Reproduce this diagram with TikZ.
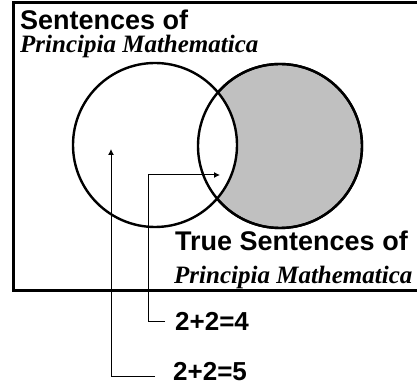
\documentclass[tikz,border=0pt]{standalone}
\usepackage{fontspec}
\setmainfont{Liberation Sans}
\newfontfamily\pmfont{Liberation Serif}
\usetikzlibrary{arrows.meta, positioning, calc}
\definecolor{shade}{RGB}{192,192,192}
\tikzset{
  set/.style={draw, line width=2.4pt, circle, minimum size=164pt, inner sep=0pt},
  title/.style={font=\fontsize{27}{30}\selectfont\bfseries, anchor=base west, inner sep=0pt},
  book/.style={font=\pmfont\fontsize{25}{28}\selectfont\bfseries\itshape, anchor=base west, inner sep=0pt},
  sum/.style={font=\fontsize{26}{30}\selectfont\bfseries, anchor=west, inner sep=0pt},
  arr/.style={-{Latex[length=6pt, width=6pt]}, line width=1pt},
}

\begin{document}
\begin{tikzpicture}[x=1pt, y=-1pt]
    \useasboundingbox (0,0) rectangle (417,387);
    \draw[line width=3pt] (13,3) rectangle (425,290);
    \node[set, fill=shade] (true) at (280,146) {};
    \node[set, fill=white] (all) at (155,145) {};
    \draw[line width=2.4pt] (true.center) circle (82);
    \node[title] (s1) at (20,30) {Sentences of};
    \node[book] (b1) at (20,53) {Principia Mathematica};
    \node[title] (s2) at (175,250) {True Sentences of};
    \node[book] (b2) at (174,283) {Principia Mathematica};
    \node[sum] (four) at (175,321) {2+2=4};
    \node[sum] (five) at (173,372) {2+2=5};
    \coordinate (p4) at (220,175);
    \coordinate (k4) at (148,175);
    \coordinate (p5) at (111,149);
    \draw[arr] ([xshift=-10pt]four.west) -| (k4) -- (p4);
    \draw[arr] ([xshift=-18pt, yshift=-4pt]five.west) -| (p5);
  \end{tikzpicture}
\end{document}
